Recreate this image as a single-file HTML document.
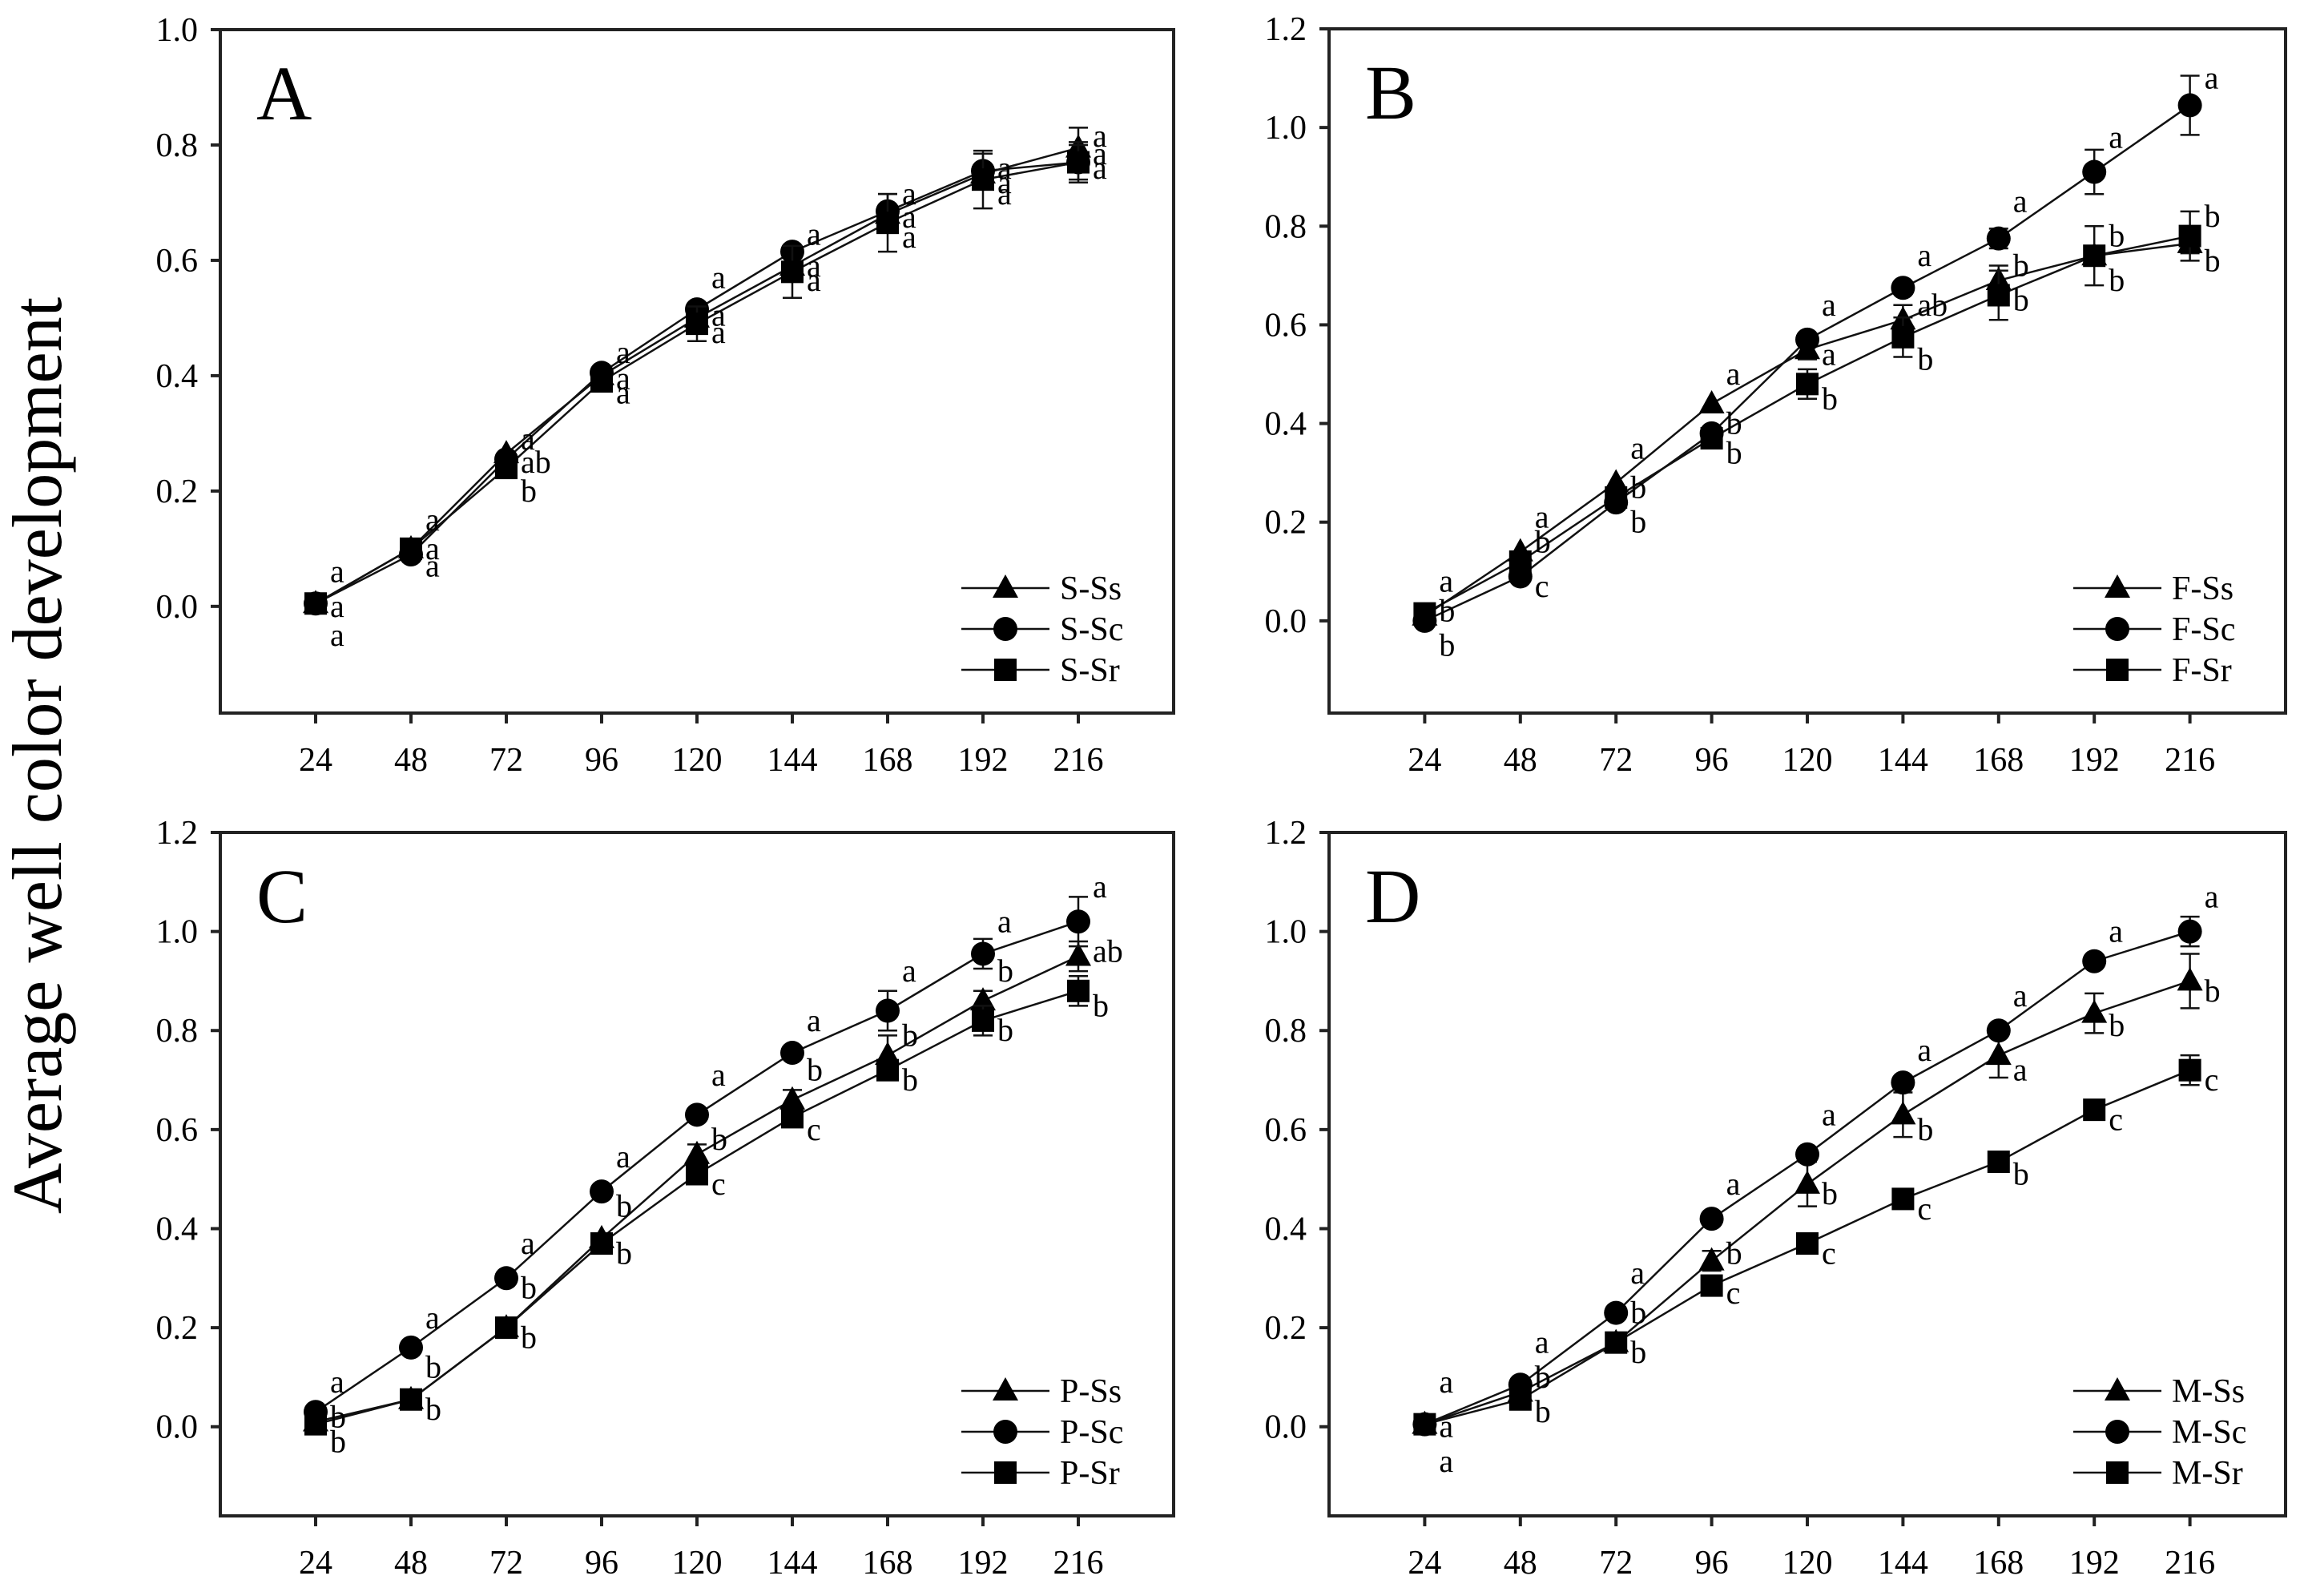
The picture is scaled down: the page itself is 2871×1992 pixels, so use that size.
<!DOCTYPE html>
<html><head><meta charset="utf-8">
<style>
html,body{margin:0;padding:0;background:#fff;}
svg{display:block;}
text{font-family:"Liberation Serif","DejaVu Serif",serif;fill:#000;}
</style></head>
<body>
<svg id="fig" width="2871" height="1992" viewBox="0 0 2871 1992" xmlns="http://www.w3.org/2000/svg">
<text transform="translate(76,943) rotate(-90)" text-anchor="middle" font-size="88">Average well color development</text>
</svg>
<script>
const times = [24,48,72,96,120,144,168,192,216];
const seriesNames = ["Ss","Sc","Sr"];

const A_ss = [0.005,0.10,0.265,0.40,0.50,0.59,0.68,0.75,0.795];
const A_sc = [0.005,0.09,0.255,0.405,0.515,0.615,0.685,0.755,0.77];
const A_sr = [0.005,0.10,0.24,0.39,0.49,0.58,0.665,0.74,0.77];
const A_err_ss = [0,0,0,0,0,0,0,0,0.035];
const A_err_sc = [0,0,0,0,0,0,0.03,0.03,0.035];
const A_err_sr = [0,0,0,0,0.03,0.045,0.05,0.05,0.03];
const A_lab_txt = [["a","a","a"],["a","a","a"],["a","ab","b"],["a","a","a"],["a","a","a"],["a","a","a"],["a","a","a"],["a","a","a"],["a","a","a"]];
const A_lab_y = [[0.06,0.0,-0.05],[0.15,0.10,0.07],[0.29,0.25,0.20],[0.44,0.395,0.37],[0.57,0.505,0.475],[0.645,0.59,0.565],[0.715,0.675,0.64],[0.76,0.735,0.715],[0.815,0.785,0.76]];

const B_ss = [0.01,0.14,0.28,0.44,0.55,0.61,0.69,0.74,0.765];
const B_sc = [0.0,0.09,0.24,0.38,0.57,0.675,0.775,0.91,1.045];
const B_sr = [0.015,0.12,0.25,0.37,0.48,0.575,0.66,0.74,0.78];
const B_err_ss = [0,0,0,0,0.02,0.03,0.03,0,0.02];
const B_err_sc = [0,0,0,0,0,0,0.02,0.045,0.06];
const B_err_sr = [0,0,0,0,0.03,0.04,0.05,0.06,0.05];
const B_lab_txt = [["a","b","b"],["a","b","c"],["a","b","b"],["a","b","b"],["a","a","b"],["a","ab","b"],["a","b","b"],["a","b","b"],["a","b","b"]];
const B_lab_y = [[0.08,0.02,-0.05],[0.21,0.16,0.07],[0.35,0.27,0.20],[0.50,0.40,0.34],[0.64,0.54,0.45],[0.74,0.64,0.53],[0.85,0.72,0.65],[0.98,0.78,0.69],[1.10,0.82,0.73]];

const C_ss = [0.01,0.055,0.20,0.38,0.55,0.66,0.75,0.86,0.95];
const C_sc = [0.03,0.16,0.30,0.475,0.63,0.755,0.84,0.955,1.02];
const C_sr = [0.005,0.055,0.20,0.37,0.51,0.625,0.72,0.82,0.88];
const C_err_ss = [0,0,0,0,0.02,0.02,0.04,0.02,0.03];
const C_err_sc = [0,0,0,0,0,0,0.04,0.03,0.05];
const C_err_sr = [0,0,0,0,0,0,0.02,0.03,0.03];
const C_lab_txt = [["a","b","b"],["a","b","b"],["a","b","b"],["a","b","b"],["a","b","c"],["a","b","c"],["a","b","b"],["a","b","b"],["a","ab","b"]];
const C_lab_y = [[0.09,0.02,-0.03],[0.22,0.12,0.035],[0.37,0.28,0.18],[0.545,0.445,0.35],[0.71,0.58,0.49],[0.82,0.72,0.60],[0.92,0.79,0.70],[1.02,0.92,0.80],[1.09,0.96,0.85]];

const D_ss = [0.005,0.07,0.17,0.335,0.49,0.63,0.75,0.835,0.90];
const D_sc = [0.005,0.085,0.23,0.42,0.55,0.695,0.80,0.94,1.0];
const D_sr = [0.005,0.055,0.17,0.285,0.37,0.46,0.535,0.64,0.72];
const D_err_ss = [0,0,0,0.02,0.045,0.045,0.045,0.04,0.055];
const D_err_sc = [0,0,0,0,0,0,0,0,0.03];
const D_err_sr = [0,0,0,0,0,0,0,0,0.03];
const D_lab_txt = [["a","a","a"],["a","b","b"],["a","b","b"],["a","b","c"],["a","b","c"],["a","b","c"],["a","a","b"],["a","b","c"],["a","b","c"]];
const D_lab_y = [[0.09,0.0,-0.07],[0.17,0.10,0.03],[0.31,0.23,0.15],[0.49,0.35,0.27],[0.63,0.47,0.35],[0.76,0.60,0.44],[0.87,0.72,0.51],[1.0,0.81,0.62],[1.07,0.88,0.70]];

const A_yticks = ["0.0","0.2","0.4","0.6","0.8","1.0"];
const B_yticks = ["0.0","0.2","0.4","0.6","0.8","1.0","1.2"];

const svg = document.getElementById('fig');
const NS = 'http://www.w3.org/2000/svg';
function mk(tag, attrs, parent){
  const e = document.createElementNS(NS, tag);
  for (const k in attrs) e.setAttribute(k, attrs[k]);
  (parent||svg).appendChild(e);
  return e;
}

const panels = [
  {id:'a', letter:'A', prefix:'S', L:275, R:1465, T:37, B:890, ymin:-0.185, ymax:1.0, ticks:A_yticks,
   ss:A_ss, sc:A_sc, sr:A_sr, ess:A_err_ss, esc:A_err_sc, esr:A_err_sr, lt:A_lab_txt, ly:A_lab_y},
  {id:'b', letter:'B', prefix:'F', L:1659, R:2853, T:36, B:890, ymin:-0.187, ymax:1.2, ticks:B_yticks,
   ss:B_ss, sc:B_sc, sr:B_sr, ess:B_err_ss, esc:B_err_sc, esr:B_err_sr, lt:B_lab_txt, ly:B_lab_y},
  {id:'c', letter:'C', prefix:'P', L:275, R:1465, T:1039, B:1892, ymin:-0.18, ymax:1.2, ticks:B_yticks,
   ss:C_ss, sc:C_sc, sr:C_sr, ess:C_err_ss, esc:C_err_sc, esr:C_err_sr, lt:C_lab_txt, ly:C_lab_y},
  {id:'d', letter:'D', prefix:'M', L:1659, R:2853, T:1039, B:1892, ymin:-0.18, ymax:1.2, ticks:B_yticks,
   ss:D_ss, sc:D_sc, sr:D_sr, ess:D_err_ss, esc:D_err_sc, esr:D_err_sr, lt:D_lab_txt, ly:D_lab_y}
];

function marker(shape, cx, cy, g){
  let m;
  if (shape === 'tri') {
    m = mk('polygon', {points:`${cx},${cy-17} ${cx-16},${cy+12} ${cx+16},${cy+12}`, fill:'#000'}, g);
  } else if (shape === 'circ') {
    m = mk('circle', {cx:cx, cy:cy, r:15, fill:'#000'}, g);
  } else {
    m = mk('rect', {x:cx-14, y:cy-14, width:28, height:28, fill:'#000'}, g);
  }
  return m;
}

panels.forEach(p => {
  const g = mk('g', {});
  
  
  const xs = v => p.L + (v / 240) * (p.R - p.L);
  const ys = v => p.B - (v - p.ymin) / (p.ymax - p.ymin) * (p.B - p.T);

  const frame = mk('rect', {x:p.L, y:p.T, width:p.R-p.L, height:p.B-p.T, fill:'none', stroke:'#222', 'stroke-width':4}, g);
  
  

  const lt = mk('text', {x:p.L+45, y:p.T+112, 'font-size':96}, g);
  lt.textContent = p.letter;
  
  

  p.ticks.forEach(t => {
    const v = parseFloat(t), y = ys(v);
    mk('line', {x1:p.L-12, x2:p.L, y1:y, y2:y, stroke:'#222', 'stroke-width':4}, g);
    const tx = mk('text', {x:p.L-28, y:y+14, 'text-anchor':'end', 'font-size':42}, g);
    tx.textContent = t;
    
    
  });
  times.forEach(t => {
    const x = xs(t);
    mk('line', {x1:x, x2:x, y1:p.B, y2:p.B+13, stroke:'#222', 'stroke-width':4}, g);
    const tx = mk('text', {x:x, y:p.B+72, 'text-anchor':'middle', 'font-size':42}, g);
    tx.textContent = String(t);
    
    
  });

  const series = [
    {name:'Ss', shape:'tri', v:p.ss, e:p.ess},
    {name:'Sc', shape:'circ', v:p.sc, e:p.esc},
    {name:'Sr', shape:'rect', v:p.sr, e:p.esr}
  ];
  series.forEach(s => {
    const sg = mk('g', {}, g);
    
    
    const pts = s.v.map((v,i) => `${xs(times[i])},${ys(v)}`).join(' ');
    const pl = mk('polyline', {points:pts, fill:'none', stroke:'#111', 'stroke-width':2.5}, sg);
    
    
    s.v.forEach((v,i) => {
      const x = xs(times[i]);
      if (s.e[i] > 0) {
        const y1 = ys(v + s.e[i]), y2 = ys(v - s.e[i]);
        mk('line', {x1:x, x2:x, y1:y1, y2:y2, stroke:'#111', 'stroke-width':2.5}, sg);
        mk('line', {x1:x-12, x2:x+12, y1:y1, y2:y1, stroke:'#111', 'stroke-width':2.5}, sg);
        mk('line', {x1:x-12, x2:x+12, y1:y2, y2:y2, stroke:'#111', 'stroke-width':2.5}, sg);
      }
      const m = marker(s.shape, x, ys(v), sg);
      
      
    });
  });

  times.forEach((t,i) => {
    for (let k = 0; k < 3; k++) {
      const tx = mk('text', {x:xs(t)+18, y:ys(p.ly[i][k])+13, 'font-size':40}, g);
      tx.textContent = p.lt[i][k];
      
      
    }
  });

  const lg = mk('g', {}, g);
  
  
  series.forEach((s,k) => {
    const y = p.B - 156 + k*51;
    const x0 = p.R - 265;
    mk('line', {x1:x0, x2:x0+110, y1:y, y2:y, stroke:'#111', 'stroke-width':2.5}, lg);
    marker(s.shape, x0+55, y, lg);
    const tx = mk('text', {x:p.R-142, y:y+14, 'font-size':42}, lg);
    tx.textContent = p.prefix + '-' + s.name;
    
    
  });
});
</script>
</body></html>
